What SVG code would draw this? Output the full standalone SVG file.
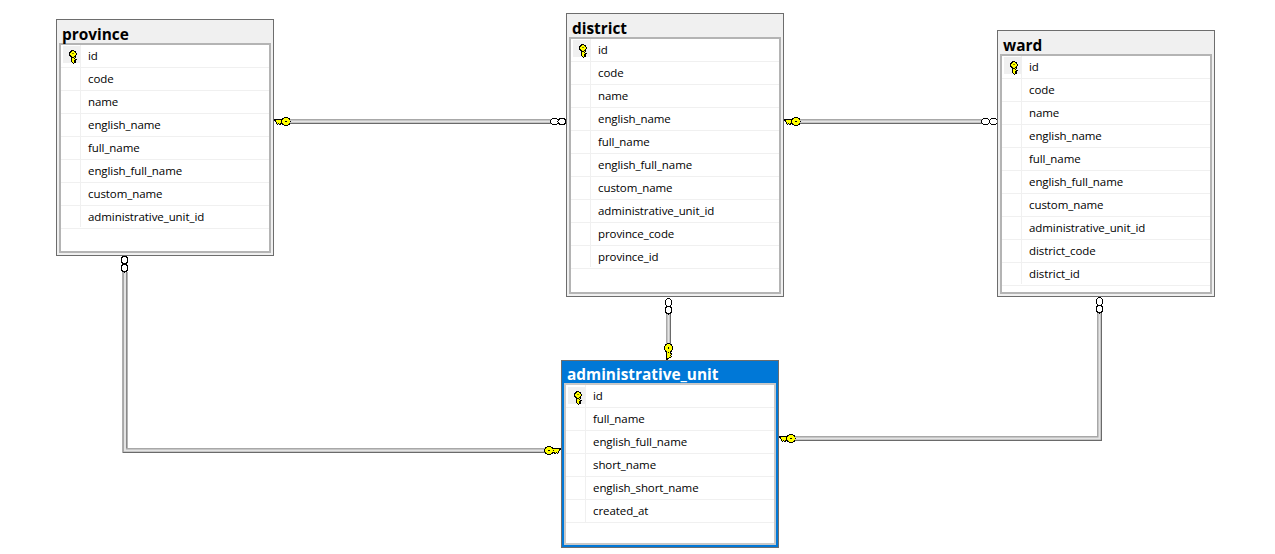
<svg xmlns="http://www.w3.org/2000/svg" xmlns:xlink="http://www.w3.org/1999/xlink" width="1275" height="554" viewBox="0 0 1275 554">
<style>
.bg{fill:#fff}
.outer{fill:#f0f0f0;stroke:#6d6d6d;stroke-width:1;shape-rendering:crispEdges}
.outer.sel{fill:#0078d7}
.inner{fill:#fff;stroke:#b4b4b4;stroke-width:2;shape-rendering:crispEdges}
.inner.sel{stroke:#c8c8c8}
.row{stroke:#f0f0f0;stroke-width:1;shape-rendering:crispEdges;fill:none}
.cell{fill:#f0f0f0}
.title{font:bold 15.4px "Open Sans","Noto Sans",sans-serif;fill:#000}
.title.sel{fill:#fff}
.col{font:11.5px "Open Sans","Noto Sans",sans-serif;letter-spacing:-.08px;fill:#000}
.w1{fill:none;stroke:#6a6a6a;stroke-width:5}
.w2{fill:none;stroke:#a8a8a8;stroke-width:4}
.w3{fill:none;stroke:#e4e4e4;stroke-width:2}
.link{fill:#fff;stroke:#000;stroke-width:1;shape-rendering:crispEdges}
.k{fill:#ffff00;stroke:#000;stroke-width:1;shape-rendering:crispEdges}
</style>
<defs>
<g id="relkey">
<path class="k" d="M-3 -2.500H-12L-8.500 3L-7.500 2L-6 3.500L-5 2H-3Z"/>
<circle class="k" r="4.200"/>
<rect x="-1" y="-0.500" width="2" height="1" fill="#000"/>
</g>
<g id="colkey">
<path class="k" d="M-2 0V5L0.500 7.500L3 6L1.500 5L3 3.500L1.500 2.500L2.500 1V0Z"/>
<circle class="k" r="3.200" cy="-2"/>
<rect x="-0.500" y="-3" width="1" height="1" fill="#000"/>
</g>
</defs>
<rect class="bg" width="1275" height="554"/>
<g id="connectors">
<g id="province-district">
<path class="w1" d="M285 121.500H551"/><path class="w2" d="M285 121H551"/><path class="w3" d="M285 121.500H551"/>
<use xlink:href="#relkey" transform="translate(286 121.500)"/>
<ellipse class="link" cx="554.500" cy="121.500" rx="4" ry="3"/><ellipse class="link" cx="562" cy="121.500" rx="4" ry="3"/>
</g>
<g id="district-ward">
<path class="w1" d="M796 121.500H982"/><path class="w2" d="M796 121H982"/><path class="w3" d="M796 121.500H982"/>
<use xlink:href="#relkey" transform="translate(796 121.500)"/>
<ellipse class="link" cx="985.500" cy="121.500" rx="4" ry="3"/><ellipse class="link" cx="993.500" cy="121.500" rx="4" ry="3"/>
</g>
<g id="district-admin">
<path class="w1" d="M668.500 314V344"/><path class="w2" d="M668 314V344"/><path class="w3" d="M668.500 314V344"/>
<ellipse class="link" cx="668.500" cy="302.500" rx="3" ry="4"/><ellipse class="link" cx="668.500" cy="310" rx="3" ry="4"/>
<use xlink:href="#relkey" transform="translate(668.500 348) rotate(-90)"/>
</g>
<g id="province-admin">
<path class="w1" d="M125 272V450.500H546"/><path class="w2" d="M124.500 272V450H546"/><path class="w3" d="M125 272V450.500H546"/>
<ellipse class="link" cx="124.500" cy="260" rx="3" ry="4"/><ellipse class="link" cx="124.500" cy="268" rx="3" ry="4"/>
<use xlink:href="#relkey" transform="translate(549 450.500) scale(-1 1)"/>
</g>
<g id="ward-admin">
<path class="w1" d="M1099.500 313V438.500H791"/><path class="w2" d="M1099 313V438H791"/><path class="w3" d="M1099.500 313V438.500H791"/>
<ellipse class="link" cx="1099.500" cy="301.500" rx="3" ry="4"/><ellipse class="link" cx="1099.500" cy="309" rx="3" ry="4"/>
<use xlink:href="#relkey" transform="translate(791 438.500)"/>
</g>
</g>
<g id="province">
<rect class="outer" x="56.500" y="19.500" width="217" height="236"/>
<rect class="inner" x="60" y="44" width="210" height="208"/>
<text class="title" x="62" y="40">province</text>
<path class="row" d="M80 45V227M61 67.500H269M61 90.500H269M61 113.500H269M61 136.500H269M61 159.500H269M61 182.500H269M61 205.500H269M61 228.500H269"/>
<rect class="cell" x="63" y="46" width="17" height="17"/>
<use xlink:href="#colkey" x="73" y="56"/>
<text class="col" x="88" y="60">id</text><text class="col" x="88" y="83">code</text><text class="col" x="88" y="106">name</text><text class="col" x="88" y="129">english_name</text><text class="col" x="88" y="152">full_name</text><text class="col" x="88" y="175">english_full_name</text><text class="col" x="88" y="198">custom_name</text><text class="col" x="88" y="221">administrative_unit_id</text>
</g>
<g id="district">
<rect class="outer" x="566.500" y="13.500" width="217" height="283"/>
<rect class="inner" x="570" y="38" width="210" height="255"/>
<text class="title" x="572" y="34">district</text>
<path class="row" d="M590 39V267M571 61.500H779M571 84.500H779M571 107.500H779M571 130.500H779M571 153.500H779M571 176.500H779M571 199.500H779M571 222.500H779M571 245.500H779M571 268.500H779"/>
<rect class="cell" x="573" y="40" width="17" height="17"/>
<use xlink:href="#colkey" x="583" y="50"/>
<text class="col" x="598" y="54">id</text><text class="col" x="598" y="77">code</text><text class="col" x="598" y="100">name</text><text class="col" x="598" y="123">english_name</text><text class="col" x="598" y="146">full_name</text><text class="col" x="598" y="169">english_full_name</text><text class="col" x="598" y="192">custom_name</text><text class="col" x="598" y="215">administrative_unit_id</text><text class="col" x="598" y="238">province_code</text><text class="col" x="598" y="261">province_id</text>
</g>
<g id="ward">
<rect class="outer" x="997.500" y="30.500" width="217" height="266"/>
<rect class="inner" x="1001" y="55" width="210" height="238"/>
<text class="title" x="1003" y="51">ward</text>
<path class="row" d="M1021 56V284M1002 78.500H1210M1002 101.500H1210M1002 124.500H1210M1002 147.500H1210M1002 170.500H1210M1002 193.500H1210M1002 216.500H1210M1002 239.500H1210M1002 262.500H1210M1002 285.500H1210"/>
<rect class="cell" x="1004" y="57" width="17" height="17"/>
<use xlink:href="#colkey" x="1014" y="67"/>
<text class="col" x="1029" y="71">id</text><text class="col" x="1029" y="94">code</text><text class="col" x="1029" y="117">name</text><text class="col" x="1029" y="140">english_name</text><text class="col" x="1029" y="163">full_name</text><text class="col" x="1029" y="186">english_full_name</text><text class="col" x="1029" y="209">custom_name</text><text class="col" x="1029" y="232">administrative_unit_id</text><text class="col" x="1029" y="255">district_code</text><text class="col" x="1029" y="278">district_id</text>
</g>
<g id="administrative_unit">
<rect class="outer sel" x="561.500" y="360.500" width="217" height="187"/>
<rect class="inner sel" x="565" y="384" width="210" height="160"/>
<text class="title sel" x="567" y="380">administrative_unit</text>
<path class="row" d="M585 385V522M566 407.500H774M566 430.500H774M566 453.500H774M566 476.500H774M566 499.500H774M566 522.500H774"/>
<rect class="cell" x="568" y="387" width="17" height="17"/>
<use xlink:href="#colkey" x="578" y="397"/>
<text class="col" x="593" y="400">id</text><text class="col" x="593" y="423">full_name</text><text class="col" x="593" y="446">english_full_name</text><text class="col" x="593" y="469">short_name</text><text class="col" x="593" y="492">english_short_name</text><text class="col" x="593" y="515">created_at</text>
</g>
</svg>
